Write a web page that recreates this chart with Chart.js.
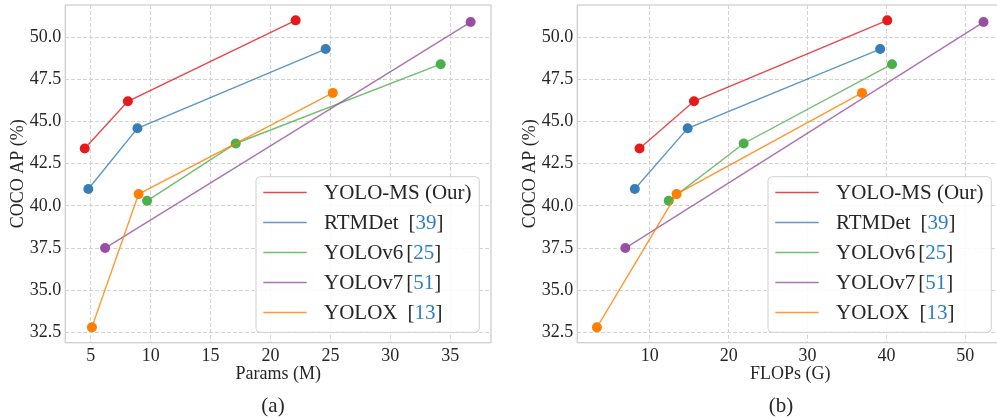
<!DOCTYPE html>
<html><head><meta charset="utf-8">
<script src="https://cdn.jsdelivr.net/npm/chart.js@4.4.1/dist/chart.umd.min.js"></script>
<style>
html,body{margin:0;padding:0;background:#fff;overflow:hidden;width:997px;height:417px;}
.wrap{position:absolute;top:0;width:512px;height:417px;}
.cap{position:absolute;width:60px;text-align:center;font-family:"Liberation Serif","Times New Roman",serif;font-size:21px;line-height:24px;color:#262626;}
</style></head><body>
<div class="wrap" style="left:0"><canvas id="c1" width="512" height="417"></canvas></div>
<div class="wrap" style="left:512px"><canvas id="c2" width="512" height="417"></canvas></div>
<div class="cap" style="left:243px;top:393px">(a)</div>
<div class="cap" style="left:751px;top:393px">(b)</div>
<script>
// ---- data ----
const models = ['YOLO-MS (Our)', 'RTMDet', 'YOLOv6', 'YOLOv7', 'YOLOX'];
const refs = ['', '39', '25', '51', '13'];
const apMS  = [43.4, 46.2, 51.0];
const apRTM = [41.0, 44.6, 49.3];
const apV6  = [40.3, 43.7, 48.4];
const apV7  = [37.5, 50.9];
const apX   = [32.8, 40.7, 46.7];
const paramsMS  = [4.5, 8.1, 22.1];
const paramsRTM = [4.8, 8.9, 24.6];
const paramsV6  = [9.7, 17.1, 34.2];
const paramsV7  = [6.2, 36.7];
const paramsX   = [5.1, 9.0, 25.2];
const flopsMS  = [8.7, 15.6, 40.1];
const flopsRTM = [8.1, 14.8, 39.2];
const flopsV6  = [12.4, 21.9, 40.7];
const flopsV7  = [6.9, 52.3];
const flopsX   = [3.3, 13.4, 36.9];
const yTicks = [32.5, 35.0, 37.5, 40.0, 42.5, 45.0, 47.5, 50.0];
const paramTicks = [5, 10, 15, 20, 25, 30, 35];
const flopTicks = [10, 20, 30, 40, 50];

const colors = ['#e41a1c', '#377eb8', '#4daf4a', '#984ea3', '#ff7f00'];
const lineColors = ['rgba(228,26,28,0.8)', 'rgba(55,126,184,0.8)', 'rgba(77,175,74,0.8)', 'rgba(152,78,163,0.8)', 'rgba(255,127,0,0.8)'];
const FONT = '"Liberation Serif","Times New Roman",serif';
const TXT = '#262626';
const REFC = '#2a7fc4';

Chart.defaults.font.family = FONT;

const zip = (xs, ys) => xs.map((x, i) => ({x, y: ys[i]}));

function datasets(xsList, ysList) {
  return xsList.map((xs, i) => ({
    label: models[i],
    data: zip(xs, ysList[i]),
    showLine: true,
    borderColor: lineColors[i],
    borderWidth: 1.4,
    backgroundColor: colors[i],
    pointBackgroundColor: colors[i],
    pointBorderColor: colors[i],
    pointBorderWidth: 0,
    pointRadius: 5,
    pointHoverRadius: 5,
    order: xsList.length - i
  }));
}

const frame = {
  id: 'frame',
  beforeDatasetsDraw(chart) {
    const {ctx, chartArea: a} = chart;
    ctx.save();
    ctx.strokeStyle = '#cccccc';
    ctx.lineWidth = 1.25;
    ctx.strokeRect(a.left, a.top, a.right - a.left, a.bottom - a.top);
    ctx.restore();
  }
};

const boxLegend = {
  id: 'boxLegend',
  afterDraw(chart) {
    const {ctx, chartArea: a} = chart;
    const x0 = a.left + 190.7, y0 = a.bottom - 166, w = 223.3, h = 155.6, r = 4;
    ctx.save();
    ctx.beginPath();
    ctx.moveTo(x0 + r, y0);
    ctx.arcTo(x0 + w, y0, x0 + w, y0 + h, r);
    ctx.arcTo(x0 + w, y0 + h, x0, y0 + h, r);
    ctx.arcTo(x0, y0 + h, x0, y0, r);
    ctx.arcTo(x0, y0, x0 + w, y0, r);
    ctx.closePath();
    ctx.fillStyle = 'rgba(255,255,255,0.85)';
    ctx.fill();
    ctx.strokeStyle = '#d0d0d0';
    ctx.lineWidth = 1;
    ctx.stroke();
    ctx.font = '21px ' + FONT;
    ctx.textBaseline = 'middle';
    chart.data.datasets.forEach((ds, i) => {
      const cy = y0 + 15.8 + i * 30;
      ctx.strokeStyle = ds.borderColor;
      ctx.lineWidth = 1.5;
      ctx.beginPath();
      ctx.moveTo(x0 + 7.3, cy);
      ctx.lineTo(x0 + 50.7, cy);
      ctx.stroke();
      let tx = x0 + 68;
      const ty = cy + 1;
      ctx.fillStyle = TXT;
      ctx.fillText(ds.label, tx, ty);
      if (refs[i]) {
        tx += ctx.measureText(ds.label).width;
        const gap = (ds.label === 'YOLOv6' || ds.label === 'YOLOv7') ? 3 : 10;
        tx += gap;
        ctx.fillText('[', tx, ty);
        tx += ctx.measureText('[').width;
        ctx.fillStyle = REFC;
        ctx.fillText(refs[i], tx, ty);
        tx += ctx.measureText(refs[i]).width;
        ctx.fillStyle = TXT;
        ctx.fillText(']', tx, ty);
      }
    });
    ctx.restore();
  }
};

function makeChart(id, xsList, xMin, xMax, xTickVals, xTitle) {
  const xStep = xTickVals[1] - xTickVals[0];
  const yStep = yTicks[1] - yTicks[0];
  return new Chart(document.getElementById(id), {
    type: 'scatter',
    data: {datasets: datasets(xsList, [apMS, apRTM, apV6, apV7, apX])},
    options: {
      responsive: false,
      animation: false,
      devicePixelRatio: 1,
      layout: {padding: {left: 0, right: 21, top: 4.7, bottom: 0}},
      plugins: {legend: {display: false}, tooltip: {enabled: false}},
      scales: {
        x: {
          type: 'linear', position: 'bottom',
          min: xMin, max: xMax,
          afterFit(s) { s.height = 74.3; s.paddingLeft = 0; s.paddingRight = 0; },
          ticks: {stepSize: xStep, includeBounds: false, autoSkip: false, maxRotation: 0,
                  padding: 3, color: TXT, font: {size: 18, family: FONT}},
          grid: {color: '#d3d3d3', lineWidth: 1, drawTicks: false},
          border: {display: false, dash: [4, 2]},
          title: {display: true, text: xTitle, color: TXT, font: {size: 18, family: FONT},
                  padding: {top: 0, bottom: 32}}
        },
        y: {
          type: 'linear', position: 'left',
          min: 31.89, max: 51.91,
          afterFit(s) { s.width = 65.3; s.paddingTop = 0; s.paddingBottom = 0; },
          ticks: {stepSize: yStep, includeBounds: false, autoSkip: false,
                  padding: 4, color: TXT, font: {size: 18, family: FONT},
                  callback: v => v.toFixed(1)},
          grid: {color: '#d3d3d3', lineWidth: 1, drawTicks: false},
          border: {display: false, dash: [4, 2]},
          title: {display: true, text: 'COCO AP (%)', color: TXT, font: {size: 18, family: FONT},
                  padding: {top: 7.5, bottom: 0}}
        }
      }
    },
    plugins: [frame, boxLegend]
  });
}

makeChart('c1', [paramsMS, paramsRTM, paramsV6, paramsV7, paramsX], 2.88, 38.4, paramTicks, 'Params (M)');
makeChart('c2', [flopsMS, flopsRTM, flopsV6, flopsV7, flopsX], 0.81, 54.77, flopTicks, 'FLOPs (G)');
</script>
</body></html>
